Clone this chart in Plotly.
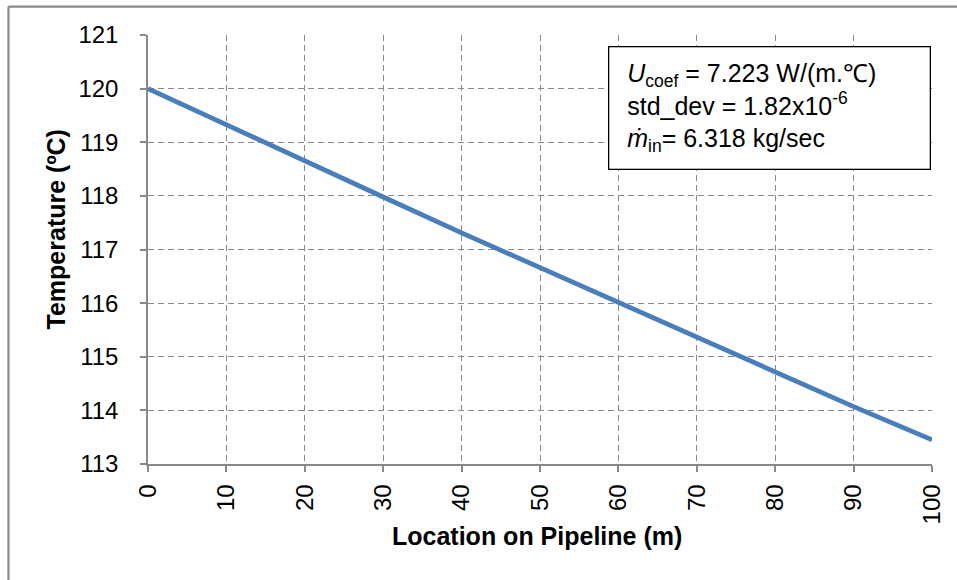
import plotly.graph_objects as go

location_m = [0, 10, 20, 30, 40, 50, 60, 70, 80, 90, 100]
temperature_c = [120.0, 119.32, 118.64, 117.98, 117.31, 116.66, 116.01, 115.36, 114.71, 114.07, 113.45]
x_ticks = [0, 10, 20, 30, 40, 50, 60, 70, 80, 90, 100]
y_ticks = [113, 114, 115, 116, 117, 118, 119, 120, 121]

FONT = "Liberation Sans, Arial, sans-serif"

fig = go.Figure()
fig.add_trace(go.Scatter(
    x=location_m, y=temperature_c, mode="lines",
    line=dict(color="#4A7EBB", width=4.8), showlegend=False,
))

axis_common = dict(
    showline=True, linecolor="#888888", linewidth=1.5,
    showgrid=True, gridcolor="#888888", gridwidth=1.2, griddash="6px,4px",
    ticks="outside", ticklen=6, tickcolor="#888888", tickwidth=1.5,
    zeroline=False, mirror=False,
    tickfont=dict(family=FONT, size=24, color="#000000"),
)

fig.update_xaxes(range=[0, 100], tickvals=x_ticks, tickangle=-90,
                 ticklabelstandoff=3, **axis_common)
fig.update_yaxes(range=[113, 121], tickvals=y_ticks,
                 ticklabelstandoff=17, **axis_common)

# axis titles
fig.add_annotation(
    xref="paper", yref="paper", x=0.496, y=-0.1677, xanchor="center", yanchor="middle",
    showarrow=False, text="<b>Location on Pipeline (m)</b>",
    font=dict(family=FONT, size=25, color="#000000"),
)
fig.add_annotation(
    xref="paper", yref="paper", x=-0.1172, y=0.547, xanchor="center", yanchor="middle",
    showarrow=False, textangle=-90, text="<b>Temperature (ºC)</b>",
    font=dict(family=FONT, size=25, color="#000000"),
)

# info box
fig.add_annotation(
    xref="paper", yref="paper", x=0.9987, y=0.9737, xanchor="right", yanchor="top",
    showarrow=False, align="left",
    text=("&nbsp;&nbsp;<i>U</i><sub>coef</sub> = 7.223 W/(m.℃)<br>"
          "&nbsp;&nbsp;std_dev = 1.82x10<sup>-6</sup><br>"
          "&nbsp;&nbsp;<i>ṁ</i><sub>in</sub>= 6.318 kg/sec"),
    font=dict(family=FONT, size=25, color="#000000"),
    bgcolor="#ffffff", bordercolor="#000000", borderwidth=1.3,
    width=312, height=113, borderpad=4,
)

# outer chart border (left/top visible)
fig.add_shape(
    type="line", xref="paper", yref="paper",
    x0=-0.178, x1=1.06, y0=1.066, y1=1.066,
    line=dict(color="#8a8a8a", width=2.2), layer="above",
)
fig.add_shape(
    type="line", xref="paper", yref="paper",
    x0=-0.178, x1=-0.178, y0=-0.35, y1=1.066,
    line=dict(color="#8a8a8a", width=2.2), layer="above",
)

fig.update_layout(
    width=957, height=580,
    margin=dict(l=148, r=19, t=35, b=116),
    paper_bgcolor="#ffffff", plot_bgcolor="#ffffff",
    font=dict(family=FONT, color="#000000"),
)

fig.write_html("out.html", config={"displayModeBar": False},
               post_script="document.body.style.margin='0px';")
